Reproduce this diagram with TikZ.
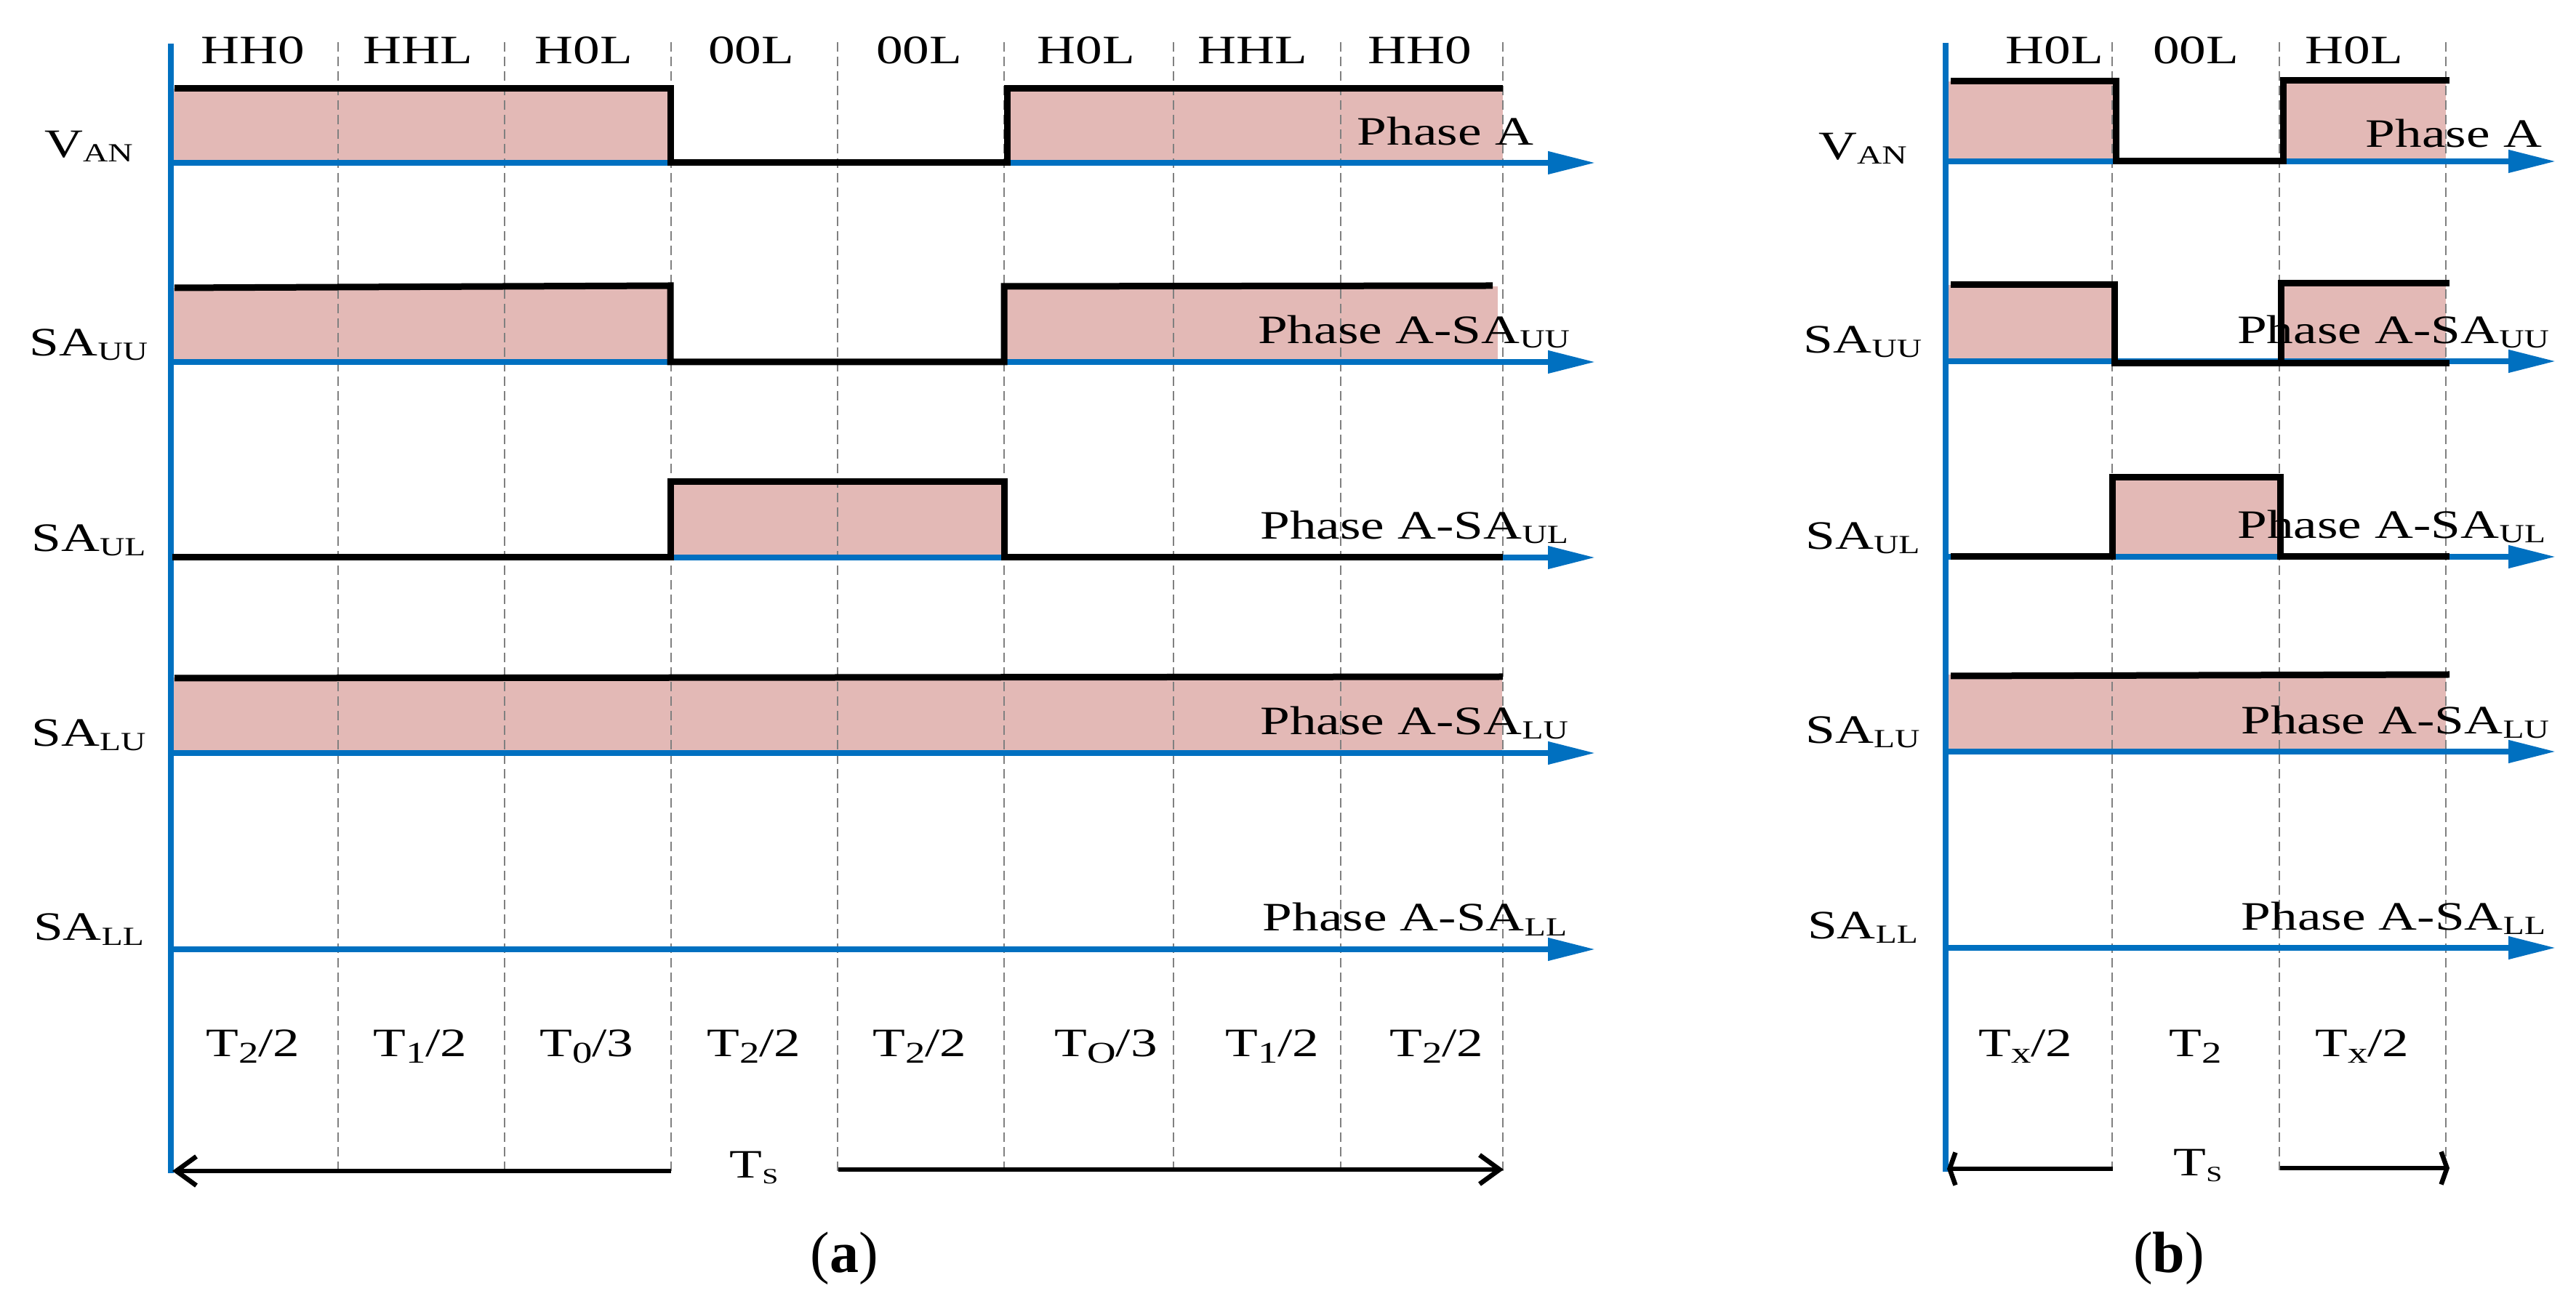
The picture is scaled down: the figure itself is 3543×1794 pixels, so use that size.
\documentclass[tikz,border=0pt]{standalone}
\usepackage{fontspec}
\setmainfont{Liberation Serif}
\newfontfamily\dfont{Liberation Serif}[FakeStretch=1.32]
\usetikzlibrary{arrows.meta}
\definecolor{axblue}{RGB}{0,112,192}
\definecolor{pinkfill}{RGB}{227,185,182}
\newcommand\dlbl{\dfont\fontsize{11.1}{13}\selectfont}
\newcommand\sbx[1]{\raisebox{-1.2pt}{\fontsize{7.2}{8}\selectfont #1}}
\newcommand\sbt[1]{\raisebox{-1.8pt}{\fontsize{8.3}{9}\selectfont #1}}
\newcommand\sbs[1]{\raisebox{-1.6pt}{\fontsize{6}{6}\selectfont #1}}
\tikzset{
  ax/.style={draw=axblue, line width=1.5pt},
  axarrow/.style={ax, -{Triangle[length=13pt,width=6pt]}},
  sig/.style={draw=black, line width=1.8pt, line join=miter},
  pfill/.style={fill=pinkfill, draw=none},
  gridl/.style={draw=gray, line width=0.4pt, dash pattern=on 2.6pt off 1.4pt},
  lbl/.style={font=\dlbl, inner sep=0pt, anchor=base},
  rlbl/.style={font=\dlbl, inner sep=0pt, anchor=base east},
  tsarrA/.style={draw=black, line width=1.3pt, -{Straight Barb[length=5.5pt,width=8pt]}},
  tsarrB/.style={draw=black, line width=1.3pt, -{Straight Barb[length=1.6pt,width=9pt]}},
  captxt/.style={font=\fontsize{16}{18}\selectfont, inner sep=0pt},
}
\begin{document}
\begin{tikzpicture}[x=0.2pt,y=-0.2pt]
\useasboundingbox (0,0) rectangle (3543,1794);

% ---------------- fills (a)
\path[pfill] (235,122) rectangle (922,224);
\path[pfill] (1385,122) rectangle (2067,224);
\path[pfill] (235,396) rectangle (922,498);
\path[pfill] (1381,394) rectangle (2060,498);
\path[pfill] (922,663) rectangle (1381,767);
\path[pfill] (238,932) rectangle (2066,1036);
% ---------------- fills (b)
\path[pfill] (2676,112) rectangle (2910,222);
\path[pfill] (3140,112) rectangle (3364,222);
\path[pfill] (2676,392) rectangle (2908,497);
\path[pfill] (3137,390) rectangle (3364,497);
\path[pfill] (2908,657) rectangle (3136,766);
\path[pfill] (2676,928) rectangle (3364,1034);

% ---------------- grid lines
\foreach \gx in {465,694,923,1152,1381,1614,1844,2067}
  \draw[gridl] (\gx,58) -- (\gx,1612);
\foreach \gx in {2905,3135,3364}
  \draw[gridl] (\gx,58) -- (\gx,1610);

% ---------------- axes (a)
\draw[ax] (235,60) -- (235,1614);
\foreach \ay in {224,498,767,1036,1306}
  \draw[axarrow] (235,\ay) -- (2194,\ay);
% ---------------- axes (b)
\draw[ax] (2676,59) -- (2676,1612);
\foreach \ay in {222,497,766,1034,1304}
  \draw[axarrow] (2676,\ay) -- (3515,\ay);

% ---------------- signals (a)
\draw[sig] (240,122) -- (922,122) -- (922,224) -- (1385,224) -- (1385,122) -- (2067,122);
\draw[sig] (240,396) -- (922,393) -- (922,498) -- (1381,498) -- (1381,394) -- (2053,393);
\draw[sig] (237,767) -- (922,767) -- (922,663) -- (1381,663) -- (1381,767) -- (2067,767);
\draw[sig] (240,933) -- (2067,931);
% ---------------- signals (b)
\draw[sig] (2683,112) -- (2910,112) -- (2910,222) -- (3140,222) -- (3140,111) -- (3369,111);
\draw[sig] (2683,392) -- (2908,392) -- (2908,500) -- (3369,500);
\draw[sig] (3137,500) -- (3137,390) -- (3369,390);
\draw[sig] (2683,766) -- (2905,766) -- (2905,657) -- (3136,657) -- (3136,766) -- (3369,766);
\draw[sig] (2683,930) -- (3369,928);

% ---------------- top labels (a)
\node[lbl] (ta1) at (348,88) {HH0};
\node[lbl] (ta2) at (575,88) {HHL};
\node[lbl] (ta3) at (803,88) {H0L};
\node[lbl] (ta4) at (1033,88) {00L};
\node[lbl] (ta5) at (1264,88) {00L};
\node[lbl] (ta6) at (1494,88) {H0L};
\node[lbl] (ta7) at (1723,88) {HHL};
\node[lbl] (ta8) at (1953,88) {HH0};
% ---------------- top labels (b)
\node[lbl] (tb1) at (2826,88) {H0L};
\node[lbl] (tb2) at (3020,88) {00L};
\node[lbl] (tb3) at (3238,88) {H0L};

% ---------------- left labels (a)
\node[lbl] (la1) at (122,217) {V\sbx{AN}};
\node[lbl] (la2) at (122,490) {SA\sbx{UU}};
\node[lbl] (la3) at (122,759) {SA\sbx{UL}};
\node[lbl] (la4) at (122,1027) {SA\sbx{LU}};
\node[lbl] (la5) at (122,1294) {SA\sbx{LL}};
% ---------------- left labels (b)
\node[lbl] (lb1) at (2562,220) {V\sbx{AN}};
\node[lbl] (lb2) at (2562,486) {SA\sbx{UU}};
\node[lbl] (lb3) at (2562,756) {SA\sbx{UL}};
\node[lbl] (lb4) at (2562,1023) {SA\sbx{LU}};
\node[lbl] (lb5) at (2562,1291) {SA\sbx{LL}};

% ---------------- right labels (a)
\node[rlbl] (ra1) at (2110,200) {Phase A};
\node[rlbl] (ra2) at (2160,473) {Phase A-SA\sbx{UU}};
\node[rlbl] (ra3) at (2158,742) {Phase A-SA\sbx{UL}};
\node[rlbl] (ra4) at (2158,1011) {Phase A-SA\sbx{LU}};
\node[rlbl] (ra5) at (2156,1281) {Phase A-SA\sbx{LL}};
% ---------------- right labels (b)
\node[rlbl] (rb1) at (3497,203) {Phase A};
\node[rlbl] (rb2) at (3507,473) {Phase A-SA\sbx{UU}};
\node[rlbl] (rb3) at (3502,741) {Phase A-SA\sbx{UL}};
\node[rlbl] (rb4) at (3507,1010) {Phase A-SA\sbx{LU}};
\node[rlbl] (rb5) at (3502,1279) {Phase A-SA\sbx{LL}};

% ---------------- interval labels (a)
\node[lbl] (da1) at (348,1453) {T\sbt{2}/2};
\node[lbl] (da2) at (578,1453) {T\sbt{1}/2};
\node[lbl] (da3) at (807,1453) {T\sbt{0}/3};
\node[lbl] (da4) at (1037,1453) {T\sbt{2}/2};
\node[lbl] (da5) at (1265,1453) {T\sbt{2}/2};
\node[lbl] (da6) at (1521,1453) {T\sbt{O}/3};
\node[lbl] (da7) at (1750,1453) {T\sbt{1}/2};
\node[lbl] (da8) at (1976,1453) {T\sbt{2}/2};
% ---------------- interval labels (b)
\node[lbl] (db1) at (2786,1453) {T\sbt{x}/2};
\node[lbl] (db2) at (3020,1453) {T\sbt{2}};
\node[lbl] (db3) at (3249,1453) {T\sbt{x}/2};

% ---------------- Ts arrows (a)
\node[lbl] (tsa) at (1037,1620) {T\sbs{S}};
\coordinate (tsaL1) at (923,1611);
\coordinate (tsaL2) at (237,1611);
\coordinate (tsaR1) at (1153,1609);
\coordinate (tsaR2) at (2068,1609);
\draw[tsarrA] (tsaL1) -- (tsaL2);
\draw[tsarrA] (tsaR1) -- (tsaR2);
% ---------------- Ts arrows (b)
\node[lbl] (tsb) at (3023,1617) {T\sbs{S}};
\coordinate (tsbL1) at (2906,1608);
\coordinate (tsbL2) at (2678,1608);
\coordinate (tsbR1) at (3136,1607);
\coordinate (tsbR2) at (3369,1607);
\draw[tsarrB] (tsbL1) -- (tsbL2);
\draw[tsarrB] (tsbR1) -- (tsbR2);

% ---------------- captions
\node[captxt] (capa) at (1161,1731) {(\textbf{a})};
\node[captxt] (capb) at (2983,1731) {(\textbf{b})};
\end{tikzpicture}
\end{document}
